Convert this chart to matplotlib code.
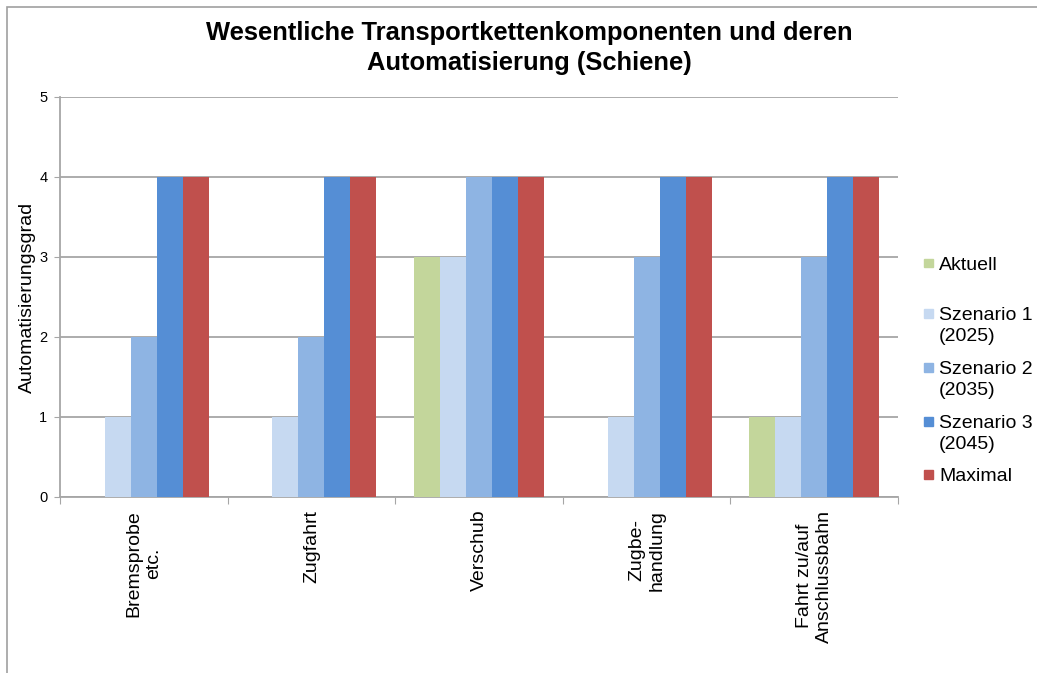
import numpy as np
import matplotlib
matplotlib.use("Agg")
from matplotlib import pyplot as plt
from matplotlib.patches import Rectangle

plt.rcParams["font.family"] = ["Liberation Sans", "DejaVu Sans"]

categories = ["Bremsprobe\netc.", "Zugfahrt", "Verschub", "Zugbe-\nhandlung",
              "Fahrt zu/auf\nAnschlussbahn"]
series_names = ["Aktuell", "Szenario 1\n(2025)", "Szenario 2\n(2035)",
                "Szenario 3\n(2045)", "Maximal"]
aktuell = [0, 0, 3, 0, 1]
szenario1 = [1, 1, 3, 1, 1]
szenario2 = [2, 2, 4, 3, 3]
szenario3 = [4, 4, 4, 4, 4]
maximal = [4, 4, 4, 4, 4]
colors = ["#C3D69B", "#C6D9F1", "#8EB4E3", "#558ED5", "#C0504D"]

values = [aktuell, szenario1, szenario2, szenario3, maximal]

W, H = 1037, 673
fig = plt.figure(figsize=(W / 100, H / 100), dpi=100)
ax = fig.add_axes([60 / W, 1 - 497 / H, 838 / W, 400 / H])

x = np.arange(len(categories))
bw = 0.155
for i, (vals, col) in enumerate(zip(values, colors)):
    ax.bar(x + (i - 2) * bw, vals, width=bw, color=col, zorder=3)

ax.set_xlim(-0.5, len(categories) - 0.5)
ax.set_ylim(0, 5)
ax.set_yticks(range(6))
ax.yaxis.grid(True, color="#a6a6a6", linewidth=1.3, zorder=0)
ax.tick_params(axis="y", labelsize=10.5, length=4, color="#a6a6a6", pad=5)

# category labels centred, boundaries as ticks
ax.set_xticks(np.arange(len(categories) + 1) - 0.5)
ax.set_xticklabels([])
ax.tick_params(axis="x", length=5, color="#a6a6a6")
for xi, lab in zip(x, categories):
    ax.text(xi, -0.032, lab, rotation=90, ha="center", va="top",
            multialignment="center", fontsize=14, linespacing=1.25,
            transform=ax.get_xaxis_transform())

for s in ["top", "right"]:
    ax.spines[s].set_visible(False)
ax.spines["left"].set_color("#a6a6a6")
ax.spines["bottom"].set_color("#a6a6a6")
ax.spines["left"].set_linewidth(1.3)
ax.spines["bottom"].set_linewidth(1.3)

ax.set_ylabel("Automatisierungsgrad", fontsize=14)
ax.yaxis.set_label_coords(-24 / 838, 0.5)

fig.text(529 / W, 1 - 48 / H,
         "Wesentliche Transportkettenkomponenten und deren\nAutomatisierung (Schiene)",
         ha="center", va="center", fontsize=18.4, fontweight="bold", linespacing=1.3)

# legend
leg_y = [263, 313, 367, 421, 474]
for name, col, yy in zip(series_names, colors, leg_y):
    fig.patches.append(Rectangle((924 / W, 1 - (yy + 4.5) / H), 9 / W, 9 / H,
                                 transform=fig.transFigure, color=col))
    fig.text(939 / W, 1 - (yy - 6) / H, name, ha="left", va="top",
             fontsize=14, linespacing=1.3)

# outer chart frame
fig.patches.append(Rectangle((7 / W, -0.1), 1.2, 1 - 7 / H + 0.1,
                             transform=fig.transFigure, fill=False,
                             edgecolor="#a0a0a0", linewidth=1.2))

fig.savefig("out.png", dpi=100)
